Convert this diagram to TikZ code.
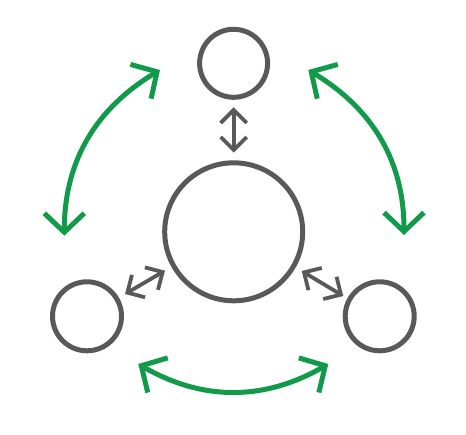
\documentclass[tikz,border=0pt]{standalone}
\usetikzlibrary{arrows.meta}
\definecolor{cgray}{HTML}{595959}
\definecolor{cgreen}{HTML}{129A4B}
\tikzset{
  ring/.style={circle, draw=cgray, line width=5pt, inner sep=0pt, minimum size=#1},
  grayarrow/.style={draw=cgray, line width=3.8pt, {Straight Barb[length=13pt,width=26pt]}-{Straight Barb[length=13pt,width=26pt]}},
  greenarrow/.style={draw=cgreen, line width=5pt, {Straight Barb[length=19pt,width=40pt]}-{Straight Barb[length=19pt,width=40pt]}}
}
\begin{document}
\begin{tikzpicture}[x=1pt,y=1pt]
\useasboundingbox (0,0) rectangle (466,434);
% circles
\node[ring=68pt] (top) at (233.6,370.7) {};
\node[ring=138pt] (mid) at (233.7,202.2) {};
\node[ring=69pt] (bl) at (87,117.7) {};
\node[ring=69pt] (br) at (379.7,117.7) {};
% small gray arrows endpoints
\coordinate (t1) at (233.7,326.7);
\coordinate (t2) at (233.7,281.3);
\coordinate (l1) at (125,140);
\coordinate (l2) at (165,163.3);
\coordinate (r1) at (301.7,163);
\coordinate (r2) at (343.3,138);
\draw[grayarrow] (t1) -- (t2);
\draw[grayarrow] (l1) -- (l2);
\draw[grayarrow] (r1) -- (r2);
% green arcs endpoints
\coordinate (gl1) at (64.3,198.3);
\coordinate (gl2) at (160,364);
\coordinate (gr1) at (404,199);
\coordinate (gr2) at (308.3,364);
\coordinate (gb1) at (138.3,70);
\coordinate (gb2) at (328.3,70);
\draw[greenarrow] (gl1) to[out=90,in=211] (gl2);
\draw[greenarrow] (gr1) to[out=90,in=-31] (gr2);
\draw[greenarrow] (gb1) to[out=-30,in=210] (gb2);
\end{tikzpicture}
\end{document}
